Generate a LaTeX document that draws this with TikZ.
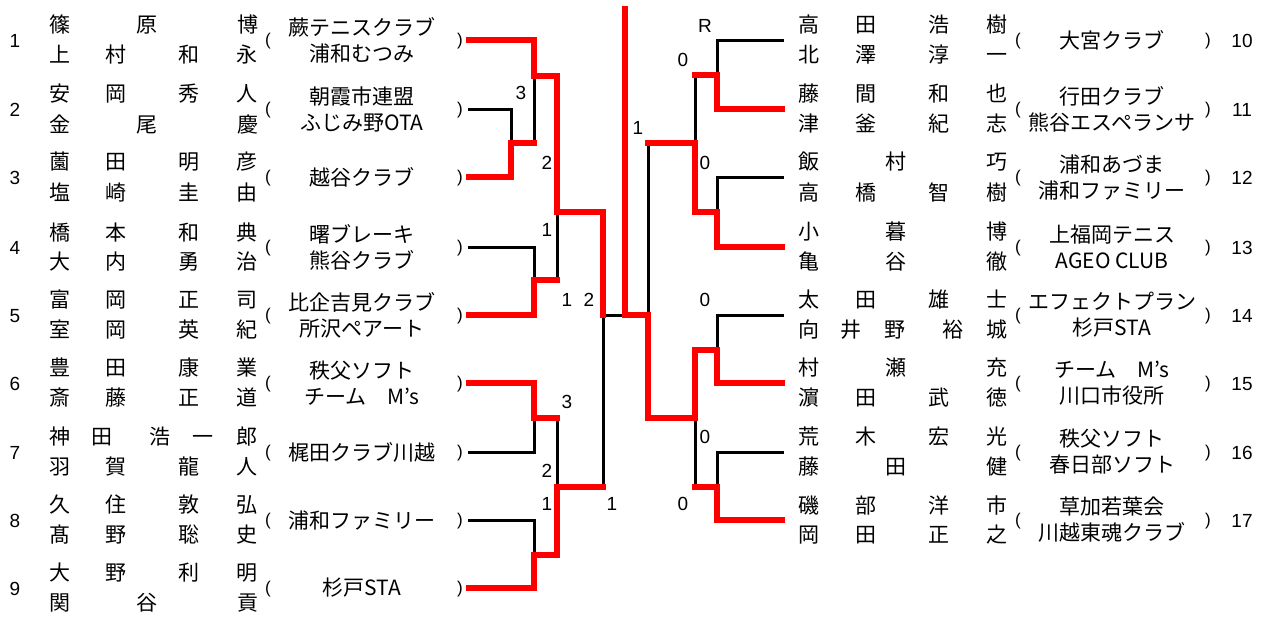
\documentclass[tikz,border=0pt]{standalone}
\usepackage{fontspec}
\setmainfont{Noto Sans CJK JP}
\newfontfamily\numfont{Liberation Sans}
\newcommand{\nthree}[3]{\makebox[87pt][l]{#1}\makebox[101pt][l]{#2}#3}
\newcommand{\nfour}[4]{\makebox[57pt][l]{#1}\makebox[73pt][l]{#2}\makebox[58pt][l]{#3}#4}
\newcommand{\nfive}[5]{\makebox[42pt][l]{#1}\makebox[59pt][l]{#2}\makebox[43pt][l]{#3}\makebox[44pt][l]{#4}#5}

\begin{document}
\begin{tikzpicture}
        [x=1pt, y=-1pt, line width=3pt, line cap=rect,
         every node/.style={inner sep=0},
         entryno/.style={font=\numfont\fontsize{19}{19}\selectfont},
         pname/.style={anchor=west, font=\fontsize{21}{21}\selectfont},
         club/.style={align=center, font=\fontsize{21}{26}\selectfont},
         paren/.style={font=\numfont\fontsize{17}{17}\selectfont},
         score/.style={font=\numfont\fontsize{19}{19}\selectfont},
         win/.style={red, line width=6.5pt}]

        \useasboundingbox[fill=white] (0,0) rectangle (1266,616);

        \node[entryno] (n1) at (15,41) {1};
        \node[pname] (p1a) at (47.5,25) {\nthree{篠}{原}{博}};
        \node[pname] (p1b) at (47.5,55) {\nfour{上}{村}{和}{永}};
        \node[paren] (lp1) at (268,41) {(};
        \node[club] (c1) at (362,40) {蕨テニスクラブ\\浦和むつみ};
        \node[paren] (rp1) at (460,41) {)};
        \coordinate (e1) at (469,40);

        \node[entryno] (n2) at (15,110) {2};
        \node[pname] (p2a) at (47.5,94) {\nfour{安}{岡}{秀}{人}};
        \node[pname] (p2b) at (47.5,124) {\nthree{金}{尾}{慶}};
        \node[paren] (lp2) at (268,110) {(};
        \node[club] (c2) at (362,109) {朝霞市連盟\\ふじみ野OTA};
        \node[paren] (rp2) at (460,110) {)};
        \coordinate (e2) at (469,109);

        \node[entryno] (n3) at (15,178) {3};
        \node[pname] (p3a) at (47.5,162) {\nfour{薗}{田}{明}{彦}};
        \node[pname] (p3b) at (47.5,192) {\nfour{塩}{崎}{圭}{由}};
        \node[paren] (lp3) at (268,178) {(};
        \node[club] (c3) at (362,177) {越谷クラブ};
        \node[paren] (rp3) at (460,178) {)};
        \coordinate (e3) at (469,177);

        \node[entryno] (n4) at (15,248) {4};
        \node[pname] (p4a) at (47.5,232) {\nfour{橋}{本}{和}{典}};
        \node[pname] (p4b) at (47.5,262) {\nfour{大}{内}{勇}{治}};
        \node[paren] (lp4) at (268,248) {(};
        \node[club] (c4) at (362,247) {曙ブレーキ\\熊谷クラブ};
        \node[paren] (rp4) at (460,248) {)};
        \coordinate (e4) at (469,247);

        \node[entryno] (n5) at (15,316) {5};
        \node[pname] (p5a) at (47.5,300) {\nfour{富}{岡}{正}{司}};
        \node[pname] (p5b) at (47.5,330) {\nfour{室}{岡}{英}{紀}};
        \node[paren] (lp5) at (268,316) {(};
        \node[club] (c5) at (362,315) {比企吉見クラブ\\所沢ペアート};
        \node[paren] (rp5) at (460,316) {)};
        \coordinate (e5) at (469,315);

        \node[entryno] (n6) at (15,384) {6};
        \node[pname] (p6a) at (47.5,368) {\nfour{豊}{田}{康}{業}};
        \node[pname] (p6b) at (47.5,398) {\nfour{斎}{藤}{正}{道}};
        \node[paren] (lp6) at (268,384) {(};
        \node[club] (c6) at (362,383) {秩父ソフト\\チーム　M’s};
        \node[paren] (rp6) at (460,384) {)};
        \coordinate (e6) at (469,383);

        \node[entryno] (n7) at (15,453) {7};
        \node[pname] (p7a) at (47.5,437) {\nfive{神}{田}{浩}{一}{郎}};
        \node[pname] (p7b) at (47.5,467) {\nfour{羽}{賀}{龍}{人}};
        \node[paren] (lp7) at (268,453) {(};
        \node[club] (c7) at (362,452) {梶田クラブ川越};
        \node[paren] (rp7) at (460,453) {)};
        \coordinate (e7) at (469,452);

        \node[entryno] (n8) at (15,521) {8};
        \node[pname] (p8a) at (47.5,505) {\nfour{久}{住}{敦}{弘}};
        \node[pname] (p8b) at (47.5,535) {\nfour{髙}{野}{聡}{史}};
        \node[paren] (lp8) at (268,521) {(};
        \node[club] (c8) at (362,520) {浦和ファミリー};
        \node[paren] (rp8) at (460,521) {)};
        \coordinate (e8) at (469,520);

        \node[entryno] (n9) at (15,589) {9};
        \node[pname] (p9a) at (47.5,573) {\nfour{大}{野}{利}{明}};
        \node[pname] (p9b) at (47.5,603) {\nthree{関}{谷}{貢}};
        \node[paren] (lp9) at (268,589) {(};
        \node[club] (c9) at (362,588) {杉戸STA};
        \node[paren] (rp9) at (460,589) {)};
        \coordinate (e9) at (469,588);

        \node[pname] (p10a) at (796.5,25) {\nfour{高}{田}{浩}{樹}};
        \node[pname] (p10b) at (796.5,55) {\nfour{北}{澤}{淳}{一}};
        \node[paren] (lp10) at (1018,41) {(};
        \node[club] (c10) at (1112,40) {大宮クラブ};
        \node[paren] (rp10) at (1208,41) {)};
        \node[entryno] (n10) at (1242,41) {10};
        \coordinate (e10) at (782,40);

        \node[pname] (p11a) at (796.5,94) {\nfour{藤}{間}{和}{也}};
        \node[pname] (p11b) at (796.5,124) {\nfour{津}{釜}{紀}{志}};
        \node[paren] (lp11) at (1018,110) {(};
        \node[club] (c11) at (1112,109) {行田クラブ\\熊谷エスペランサ};
        \node[paren] (rp11) at (1208,110) {)};
        \node[entryno] (n11) at (1242,110) {11};
        \coordinate (e11) at (782,109);

        \node[pname] (p12a) at (796.5,162) {\nthree{飯}{村}{巧}};
        \node[pname] (p12b) at (796.5,192) {\nfour{高}{橋}{智}{樹}};
        \node[paren] (lp12) at (1018,178) {(};
        \node[club] (c12) at (1112,177) {浦和あづま\\浦和ファミリー};
        \node[paren] (rp12) at (1208,178) {)};
        \node[entryno] (n12) at (1242,178) {12};
        \coordinate (e12) at (782,177);

        \node[pname] (p13a) at (796.5,232) {\nthree{小}{暮}{博}};
        \node[pname] (p13b) at (796.5,262) {\nthree{亀}{谷}{徹}};
        \node[paren] (lp13) at (1018,248) {(};
        \node[club] (c13) at (1112,247) {上福岡テニス\\AGEO CLUB};
        \node[paren] (rp13) at (1208,248) {)};
        \node[entryno] (n13) at (1242,248) {13};
        \coordinate (e13) at (782,247);

        \node[pname] (p14a) at (796.5,300) {\nfour{太}{田}{雄}{士}};
        \node[pname] (p14b) at (796.5,330) {\makebox[43pt][l]{向}\makebox[43pt][l]{井}\makebox[59pt][l]{野}\makebox[43pt][l]{裕}城};
        \node[paren] (lp14) at (1018,316) {(};
        \node[club] (c14) at (1112,315) {エフェクトプラン\\杉戸STA};
        \node[paren] (rp14) at (1208,316) {)};
        \node[entryno] (n14) at (1242,316) {14};
        \coordinate (e14) at (782,315);

        \node[pname] (p15a) at (796.5,368) {\nthree{村}{瀬}{充}};
        \node[pname] (p15b) at (796.5,398) {\nfour{濵}{田}{武}{徳}};
        \node[paren] (lp15) at (1018,384) {(};
        \node[club] (c15) at (1112,383) {チーム　M’s\\川口市役所};
        \node[paren] (rp15) at (1208,384) {)};
        \node[entryno] (n15) at (1242,384) {15};
        \coordinate (e15) at (782,383);

        \node[pname] (p16a) at (796.5,437) {\nfour{荒}{木}{宏}{光}};
        \node[pname] (p16b) at (796.5,467) {\nthree{藤}{田}{健}};
        \node[paren] (lp16) at (1018,453) {(};
        \node[club] (c16) at (1112,452) {秩父ソフト\\春日部ソフト};
        \node[paren] (rp16) at (1208,453) {)};
        \node[entryno] (n16) at (1242,453) {16};
        \coordinate (e16) at (782,452);

        \node[pname] (p17a) at (796.5,505) {\nfour{磯}{部}{洋}{市}};
        \node[pname] (p17b) at (796.5,535) {\nfour{岡}{田}{正}{之}};
        \node[paren] (lp17) at (1018,521) {(};
        \node[club] (c17) at (1112,520) {草加若葉会\\川越東魂クラブ};
        \node[paren] (rp17) at (1208,521) {)};
        \node[entryno] (n17) at (1242,521) {17};
        \coordinate (e17) at (782,520);

        \coordinate (j23) at (511,143);
        \coordinate (j1) at (534,76);
        \coordinate (j45) at (534,280);
        \coordinate (jL1) at (557,212);
        \coordinate (j67) at (534,418);
        \coordinate (j89) at (534,555);
        \coordinate (jL2) at (557,487);
        \coordinate (jL) at (603,315);
        \coordinate (jF) at (625,315);
        \coordinate (top) at (625,9);
        \coordinate (jR) at (648,315);
        \coordinate (jR1) at (695,143);
        \coordinate (j1011) at (717,75);
        \coordinate (j1213) at (717,212);
        \coordinate (jR2) at (695,418);
        \coordinate (j1415) at (717,350);
        \coordinate (j1617) at (717,487);

        \node[score] (s1) at (521,93) {3};
        \node[score] (s2) at (547,163) {2};
        \node[score] (s3) at (547,230) {1};
        \node[score] (s4) at (567,300) {1};
        \node[score] (s5) at (589,300) {2};
        \node[score] (s6) at (567,402) {3};
        \node[score] (s7) at (547,471) {2};
        \node[score] (s8) at (547,504) {1};
        \node[score] (s9) at (612,504) {1};
        \node[score] (s10) at (638,128) {1};
        \node[score] (s11) at (705,26) {R};
        \node[score] (s12) at (683,60) {0};
        \node[score] (s13) at (705,163) {0};
        \node[score] (s14) at (705,300) {0};
        \node[score] (s15) at (705,437) {0};
        \node[score] (s16) at (683,504) {0};

        \draw (e2) -| (j23) |- (e3);
        \draw (e1) -| (j1);
        \draw (j23) -| (j1);
        \draw (e4) -| (j45) |- (e5);
        \draw (j1) -| (jL1);
        \draw (j45) -| (jL1);
        \draw (e6) -| (j67) |- (e7);
        \draw (e8) -| (j89) |- (e9);
        \draw (j67) -| (jL2);
        \draw (j89) -| (jL2);
        \draw (jL1) -| (jL) |- (jL2);
        \draw (jL) -- (jR);
        \draw (jF) -- (top);
        \draw (e10) -| (j1011) |- (e11);
        \draw (e12) -| (j1213) |- (e13);
        \draw (j1011) -| (jR1) |- (j1213);
        \draw (e14) -| (j1415) |- (e15);
        \draw (e16) -| (j1617) |- (e17);
        \draw (j1415) -| (jR2) |- (j1617);
        \draw (jR1) -| (jR) |- (jR2);

        \draw[win] (e1) -| (j1) -| (jL1) -| (jL);
        \draw[win] (e3) -| (j23) -- (j23 -| j1);
        \draw[win] (e5) -| (j45) -- (j45 -| jL1);
        \draw[win] (e6) -| (j67) -- (j67 -| jL2);
        \draw[win] (e9) -| (j89) -| (jL2) -- (jL2 -| jL);
        \draw[win] (e11) -| (j1011) -- (j1011 -| jR1);
        \draw[win] (e13) -| (j1213) -| (jR1) -- (jR1 -| jR);
        \draw[win] (e15) -| (j1415) -| (jR2) -| (jR) -- (jF) -- (top);
        \draw[win] (e17) -| (j1617) -- (j1617 -| jR2);
      \end{tikzpicture}
\end{document}
